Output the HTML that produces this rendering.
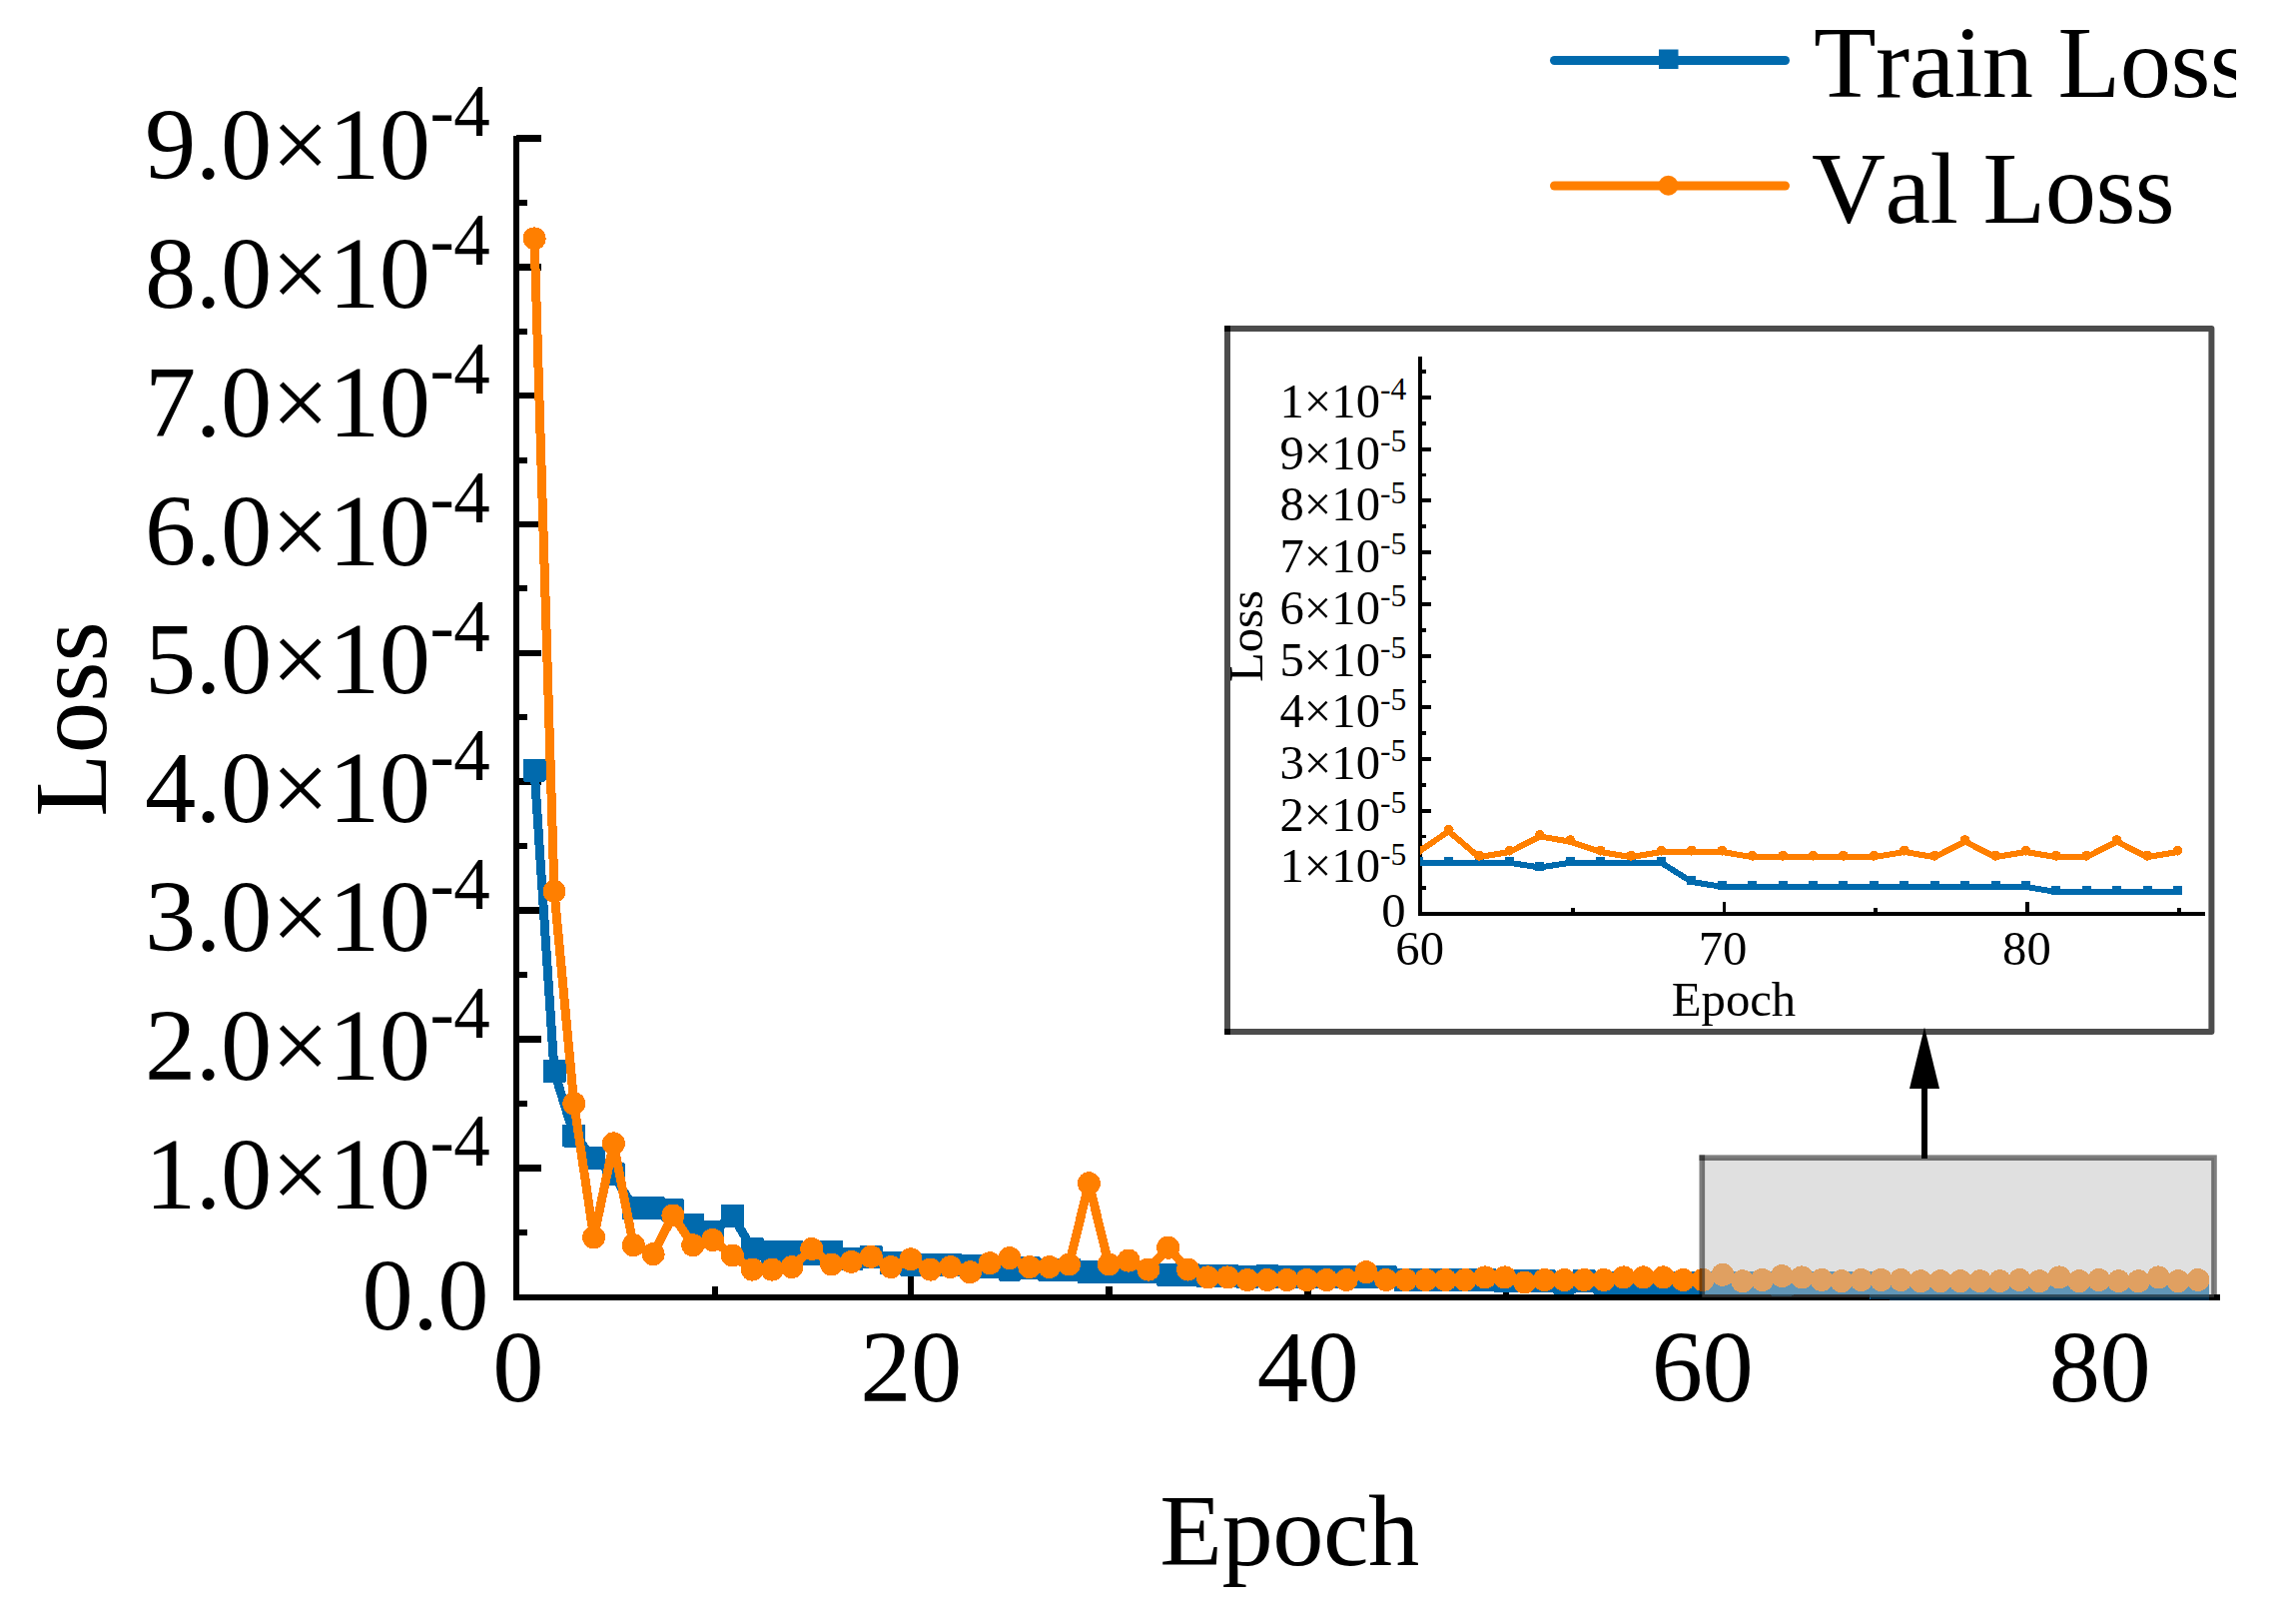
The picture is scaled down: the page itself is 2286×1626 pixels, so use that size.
<!DOCTYPE html>
<html lang="en"><head><meta charset="utf-8"><title>Train / Val Loss</title>
<style>html,body{margin:0;padding:0;background:#fff}body{width:2286px;height:1626px;overflow:hidden}svg{display:block}text{font-family:'Liberation Serif', 'Times New Roman', serif;fill:#000;font-kerning:none;font-variant-ligatures:none}</style>
</head><body>
<svg width="2286" height="1626" viewBox="0 0 2286 1626">
<defs>
<clipPath id="legclip"><rect x="0" y="0" width="2239" height="300"/></clipPath>
<clipPath id="insclip"><rect x="1422.0" y="340" width="773.0" height="577.0"/></clipPath>
<clipPath id="mainclip"><rect x="517" y="100" width="1720" height="1202"/></clipPath>
<clipPath id="zoomclip"><rect x="1690" y="1100" width="560" height="199"/></clipPath>
</defs>
<rect x="0" y="0" width="2286" height="1626" fill="#ffffff"/>
<g fill="#000" shape-rendering="crispEdges">
<rect x="514" y="135.5" width="6" height="1166.5"/>
<rect x="514" y="1296" width="1709" height="6"/>
<rect x="517" y="1230.8" width="11" height="6"/>
<rect x="517" y="1166.0" width="25" height="6.6"/>
<rect x="517" y="1101.9" width="11" height="6"/>
<rect x="517" y="1037.2" width="25" height="6.6"/>
<rect x="517" y="973.0" width="11" height="6"/>
<rect x="517" y="908.3" width="25" height="6.6"/>
<rect x="517" y="844.2" width="11" height="6"/>
<rect x="517" y="779.4" width="25" height="6.6"/>
<rect x="517" y="715.3" width="11" height="6"/>
<rect x="517" y="650.6" width="25" height="6.6"/>
<rect x="517" y="586.4" width="11" height="6"/>
<rect x="517" y="521.7" width="25" height="6.6"/>
<rect x="517" y="457.6" width="11" height="6"/>
<rect x="517" y="392.8" width="25" height="6.6"/>
<rect x="517" y="328.7" width="11" height="6"/>
<rect x="517" y="263.9" width="25" height="6.6"/>
<rect x="517" y="199.8" width="11" height="6"/>
<rect x="517" y="135.1" width="25" height="6.6"/>
<rect x="712.8" y="1288" width="6.5" height="10"/>
<rect x="908.8" y="1275.5" width="6.5" height="23"/>
<rect x="1107.2" y="1288" width="6.5" height="10"/>
<rect x="1306.2" y="1275.5" width="6.5" height="23"/>
<rect x="1504.8" y="1288" width="6.5" height="10"/>
<rect x="1701.2" y="1275.5" width="6.5" height="23"/>
<rect x="1899.2" y="1288" width="6.5" height="10"/>
<rect x="2097.2" y="1275.5" width="6.5" height="23"/>
</g>
<g font-size="102.5" letter-spacing="-0.5">
<text x="145" y="1209.8">1.0×10<tspan font-size="73" dy="-42.5">-4</tspan></text>
<text x="145" y="1081.0">2.0×10<tspan font-size="73" dy="-42.5">-4</tspan></text>
<text x="145" y="952.1">3.0×10<tspan font-size="73" dy="-42.5">-4</tspan></text>
<text x="145" y="823.2">4.0×10<tspan font-size="73" dy="-42.5">-4</tspan></text>
<text x="145" y="694.4">5.0×10<tspan font-size="73" dy="-42.5">-4</tspan></text>
<text x="145" y="565.5">6.0×10<tspan font-size="73" dy="-42.5">-4</tspan></text>
<text x="145" y="436.6">7.0×10<tspan font-size="73" dy="-42.5">-4</tspan></text>
<text x="145" y="307.7">8.0×10<tspan font-size="73" dy="-42.5">-4</tspan></text>
<text x="145" y="178.9">9.0×10<tspan font-size="73" dy="-42.5">-4</tspan></text>
<text x="489" y="1331" text-anchor="end">0.0</text>
<text x="518.5" y="1403" text-anchor="middle">0</text>
<text x="912.0" y="1403" text-anchor="middle">20</text>
<text x="1309.5" y="1403" text-anchor="middle">40</text>
<text x="1704.5" y="1403" text-anchor="middle">60</text>
<text x="2102.5" y="1403" text-anchor="middle">80</text>
<text x="1291" y="1566.5" text-anchor="middle">Epoch</text>
<text transform="translate(105.6 720) rotate(-90)" text-anchor="middle" font-size="103.5" letter-spacing="0">Loss</text>
</g>
<g clip-path="url(#mainclip)" shape-rendering="crispEdges">
<polyline fill="none" stroke="#016AAD" stroke-width="9" stroke-linejoin="round" stroke-linecap="round" points="535.1,771.1 555.0,1072.7 574.8,1137.1 594.6,1159.0 614.4,1175.8 634.3,1209.3 654.1,1209.3 673.9,1211.9 693.8,1226.0 713.6,1233.8 733.4,1217.0 753.3,1250.5 773.1,1253.1 792.9,1253.1 812.8,1255.7 832.6,1253.1 852.4,1260.8 872.2,1258.3 892.1,1264.7 911.9,1266.0 931.7,1266.0 951.6,1266.0 971.4,1267.3 991.2,1268.6 1011.0,1271.1 1030.9,1269.9 1050.7,1271.1 1070.5,1271.1 1090.4,1273.7 1110.2,1273.7 1130.0,1273.7 1149.9,1273.7 1169.7,1276.3 1189.5,1276.3 1209.3,1277.6 1229.2,1277.6 1249.0,1278.9 1268.8,1277.6 1288.7,1278.9 1308.5,1278.9 1328.3,1278.9 1348.2,1278.9 1368.0,1278.9 1387.8,1278.9 1407.6,1281.5 1427.5,1281.5 1447.3,1281.5 1467.1,1281.5 1487.0,1281.5 1506.8,1282.7 1526.6,1282.7 1546.5,1282.7 1566.3,1284.0 1586.1,1282.7 1605.9,1284.0 1625.8,1284.0 1645.6,1284.0 1665.4,1284.0 1685.3,1284.0 1705.1,1284.7 1724.9,1284.7 1744.8,1284.7 1764.6,1284.7 1784.4,1286.0 1804.2,1284.7 1824.1,1284.7 1843.9,1284.7 1863.7,1284.7 1883.6,1289.8 1903.4,1291.1 1923.2,1291.1 1943.1,1291.1 1962.9,1291.1 1982.7,1291.1 2002.5,1291.1 2022.4,1291.1 2042.2,1291.1 2062.0,1291.1 2081.9,1291.1 2101.7,1291.1 2121.5,1292.4 2141.4,1292.4 2161.2,1292.4 2181.0,1292.4 2200.8,1292.4"/>
<rect x="523.6" y="759.6" width="23" height="23" rx="1.5" fill="#016AAD"/>
<rect x="543.5" y="1061.2" width="23" height="23" rx="1.5" fill="#016AAD"/>
<rect x="563.3" y="1125.6" width="23" height="23" rx="1.5" fill="#016AAD"/>
<rect x="583.1" y="1147.5" width="23" height="23" rx="1.5" fill="#016AAD"/>
<rect x="602.9" y="1164.3" width="23" height="23" rx="1.5" fill="#016AAD"/>
<rect x="622.8" y="1197.8" width="23" height="23" rx="1.5" fill="#016AAD"/>
<rect x="642.6" y="1197.8" width="23" height="23" rx="1.5" fill="#016AAD"/>
<rect x="662.4" y="1200.4" width="23" height="23" rx="1.5" fill="#016AAD"/>
<rect x="682.3" y="1214.5" width="23" height="23" rx="1.5" fill="#016AAD"/>
<rect x="702.1" y="1222.3" width="23" height="23" rx="1.5" fill="#016AAD"/>
<rect x="721.9" y="1205.5" width="23" height="23" rx="1.5" fill="#016AAD"/>
<rect x="741.8" y="1239.0" width="23" height="23" rx="1.5" fill="#016AAD"/>
<rect x="761.6" y="1241.6" width="23" height="23" rx="1.5" fill="#016AAD"/>
<rect x="781.4" y="1241.6" width="23" height="23" rx="1.5" fill="#016AAD"/>
<rect x="801.2" y="1244.2" width="23" height="23" rx="1.5" fill="#016AAD"/>
<rect x="821.1" y="1241.6" width="23" height="23" rx="1.5" fill="#016AAD"/>
<rect x="840.9" y="1249.3" width="23" height="23" rx="1.5" fill="#016AAD"/>
<rect x="860.7" y="1246.8" width="23" height="23" rx="1.5" fill="#016AAD"/>
<rect x="880.6" y="1253.2" width="23" height="23" rx="1.5" fill="#016AAD"/>
<rect x="900.4" y="1254.5" width="23" height="23" rx="1.5" fill="#016AAD"/>
<rect x="920.2" y="1254.5" width="23" height="23" rx="1.5" fill="#016AAD"/>
<rect x="940.1" y="1254.5" width="23" height="23" rx="1.5" fill="#016AAD"/>
<rect x="959.9" y="1255.8" width="23" height="23" rx="1.5" fill="#016AAD"/>
<rect x="979.7" y="1257.1" width="23" height="23" rx="1.5" fill="#016AAD"/>
<rect x="999.5" y="1259.6" width="23" height="23" rx="1.5" fill="#016AAD"/>
<rect x="1019.4" y="1258.4" width="23" height="23" rx="1.5" fill="#016AAD"/>
<rect x="1039.2" y="1259.6" width="23" height="23" rx="1.5" fill="#016AAD"/>
<rect x="1059.0" y="1259.6" width="23" height="23" rx="1.5" fill="#016AAD"/>
<rect x="1078.9" y="1262.2" width="23" height="23" rx="1.5" fill="#016AAD"/>
<rect x="1098.7" y="1262.2" width="23" height="23" rx="1.5" fill="#016AAD"/>
<rect x="1118.5" y="1262.2" width="23" height="23" rx="1.5" fill="#016AAD"/>
<rect x="1138.4" y="1262.2" width="23" height="23" rx="1.5" fill="#016AAD"/>
<rect x="1158.2" y="1264.8" width="23" height="23" rx="1.5" fill="#016AAD"/>
<rect x="1178.0" y="1264.8" width="23" height="23" rx="1.5" fill="#016AAD"/>
<rect x="1197.8" y="1266.1" width="23" height="23" rx="1.5" fill="#016AAD"/>
<rect x="1217.7" y="1266.1" width="23" height="23" rx="1.5" fill="#016AAD"/>
<rect x="1237.5" y="1267.4" width="23" height="23" rx="1.5" fill="#016AAD"/>
<rect x="1257.3" y="1266.1" width="23" height="23" rx="1.5" fill="#016AAD"/>
<rect x="1277.2" y="1267.4" width="23" height="23" rx="1.5" fill="#016AAD"/>
<rect x="1297.0" y="1267.4" width="23" height="23" rx="1.5" fill="#016AAD"/>
<rect x="1316.8" y="1267.4" width="23" height="23" rx="1.5" fill="#016AAD"/>
<rect x="1336.7" y="1267.4" width="23" height="23" rx="1.5" fill="#016AAD"/>
<rect x="1356.5" y="1267.4" width="23" height="23" rx="1.5" fill="#016AAD"/>
<rect x="1376.3" y="1267.4" width="23" height="23" rx="1.5" fill="#016AAD"/>
<rect x="1396.1" y="1270.0" width="23" height="23" rx="1.5" fill="#016AAD"/>
<rect x="1416.0" y="1270.0" width="23" height="23" rx="1.5" fill="#016AAD"/>
<rect x="1435.8" y="1270.0" width="23" height="23" rx="1.5" fill="#016AAD"/>
<rect x="1455.6" y="1270.0" width="23" height="23" rx="1.5" fill="#016AAD"/>
<rect x="1475.5" y="1270.0" width="23" height="23" rx="1.5" fill="#016AAD"/>
<rect x="1495.3" y="1271.2" width="23" height="23" rx="1.5" fill="#016AAD"/>
<rect x="1515.1" y="1271.2" width="23" height="23" rx="1.5" fill="#016AAD"/>
<rect x="1535.0" y="1271.2" width="23" height="23" rx="1.5" fill="#016AAD"/>
<rect x="1554.8" y="1272.5" width="23" height="23" rx="1.5" fill="#016AAD"/>
<rect x="1574.6" y="1271.2" width="23" height="23" rx="1.5" fill="#016AAD"/>
<rect x="1594.4" y="1272.5" width="23" height="23" rx="1.5" fill="#016AAD"/>
<rect x="1614.3" y="1272.5" width="23" height="23" rx="1.5" fill="#016AAD"/>
<rect x="1634.1" y="1272.5" width="23" height="23" rx="1.5" fill="#016AAD"/>
<rect x="1653.9" y="1272.5" width="23" height="23" rx="1.5" fill="#016AAD"/>
<rect x="1673.8" y="1272.5" width="23" height="23" rx="1.5" fill="#016AAD"/>
<rect x="1693.6" y="1273.2" width="23" height="23" rx="1.5" fill="#016AAD"/>
<rect x="1713.4" y="1273.2" width="23" height="23" rx="1.5" fill="#016AAD"/>
<rect x="1733.3" y="1273.2" width="23" height="23" rx="1.5" fill="#016AAD"/>
<rect x="1753.1" y="1273.2" width="23" height="23" rx="1.5" fill="#016AAD"/>
<rect x="1772.9" y="1274.5" width="23" height="23" rx="1.5" fill="#016AAD"/>
<rect x="1792.7" y="1273.2" width="23" height="23" rx="1.5" fill="#016AAD"/>
<rect x="1812.6" y="1273.2" width="23" height="23" rx="1.5" fill="#016AAD"/>
<rect x="1832.4" y="1273.2" width="23" height="23" rx="1.5" fill="#016AAD"/>
<rect x="1852.2" y="1273.2" width="23" height="23" rx="1.5" fill="#016AAD"/>
<rect x="1872.1" y="1278.3" width="23" height="23" rx="1.5" fill="#016AAD"/>
<rect x="1891.9" y="1279.6" width="23" height="23" rx="1.5" fill="#016AAD"/>
<rect x="1911.7" y="1279.6" width="23" height="23" rx="1.5" fill="#016AAD"/>
<rect x="1931.6" y="1279.6" width="23" height="23" rx="1.5" fill="#016AAD"/>
<rect x="1951.4" y="1279.6" width="23" height="23" rx="1.5" fill="#016AAD"/>
<rect x="1971.2" y="1279.6" width="23" height="23" rx="1.5" fill="#016AAD"/>
<rect x="1991.0" y="1279.6" width="23" height="23" rx="1.5" fill="#016AAD"/>
<rect x="2010.9" y="1279.6" width="23" height="23" rx="1.5" fill="#016AAD"/>
<rect x="2030.7" y="1279.6" width="23" height="23" rx="1.5" fill="#016AAD"/>
<rect x="2050.5" y="1279.6" width="23" height="23" rx="1.5" fill="#016AAD"/>
<rect x="2070.4" y="1279.6" width="23" height="23" rx="1.5" fill="#016AAD"/>
<rect x="2090.2" y="1279.6" width="23" height="23" rx="1.5" fill="#016AAD"/>
<rect x="2110.0" y="1280.9" width="23" height="23" rx="1.5" fill="#016AAD"/>
<rect x="2129.9" y="1280.9" width="23" height="23" rx="1.5" fill="#016AAD"/>
<rect x="2149.7" y="1280.9" width="23" height="23" rx="1.5" fill="#016AAD"/>
<rect x="2169.5" y="1280.9" width="23" height="23" rx="1.5" fill="#016AAD"/>
<rect x="2189.3" y="1280.9" width="23" height="23" rx="1.5" fill="#016AAD"/>
<polyline fill="none" stroke="#FF7F00" stroke-width="9" stroke-linejoin="round" stroke-linecap="round" points="535.1,238.9 555.0,892.3 574.8,1104.9 594.6,1238.9 614.4,1144.9 634.3,1246.7 654.1,1255.7 673.9,1217.0 693.8,1246.7 713.6,1241.5 733.4,1257.0 753.3,1271.1 773.1,1271.1 792.9,1268.6 812.8,1250.5 832.6,1266.0 852.4,1263.4 872.2,1258.3 892.1,1268.6 911.9,1260.8 931.7,1271.1 951.6,1268.6 971.4,1273.7 991.2,1264.7 1011.0,1259.6 1030.9,1268.6 1050.7,1268.6 1070.5,1266.0 1090.4,1184.8 1110.2,1266.0 1130.0,1262.1 1149.9,1271.1 1169.7,1249.2 1189.5,1271.1 1209.3,1278.9 1229.2,1278.9 1249.0,1281.5 1268.8,1281.5 1288.7,1281.5 1308.5,1281.5 1328.3,1281.5 1348.2,1281.5 1368.0,1273.7 1387.8,1281.5 1407.6,1281.5 1427.5,1281.5 1447.3,1281.5 1467.1,1281.5 1487.0,1278.9 1506.8,1278.9 1526.6,1284.0 1546.5,1281.5 1566.3,1281.5 1586.1,1281.5 1605.9,1281.5 1625.8,1278.9 1645.6,1278.9 1665.4,1278.9 1685.3,1281.5 1705.1,1281.5 1724.9,1276.3 1744.8,1282.7 1764.6,1281.5 1784.4,1277.6 1804.2,1278.9 1824.1,1281.5 1843.9,1282.7 1863.7,1281.5 1883.6,1281.5 1903.4,1281.5 1923.2,1282.7 1943.1,1282.7 1962.9,1282.7 1982.7,1282.7 2002.5,1282.7 2022.4,1281.5 2042.2,1282.7 2062.0,1278.9 2081.9,1282.7 2101.7,1281.5 2121.5,1282.7 2141.4,1282.7 2161.2,1278.9 2181.0,1282.7 2200.8,1281.5"/>
<circle cx="535.1" cy="238.9" r="11.5" fill="#FF7F00"/>
<circle cx="555.0" cy="892.3" r="11.5" fill="#FF7F00"/>
<circle cx="574.8" cy="1104.9" r="11.5" fill="#FF7F00"/>
<circle cx="594.6" cy="1238.9" r="11.5" fill="#FF7F00"/>
<circle cx="614.4" cy="1144.9" r="11.5" fill="#FF7F00"/>
<circle cx="634.3" cy="1246.7" r="11.5" fill="#FF7F00"/>
<circle cx="654.1" cy="1255.7" r="11.5" fill="#FF7F00"/>
<circle cx="673.9" cy="1217.0" r="11.5" fill="#FF7F00"/>
<circle cx="693.8" cy="1246.7" r="11.5" fill="#FF7F00"/>
<circle cx="713.6" cy="1241.5" r="11.5" fill="#FF7F00"/>
<circle cx="733.4" cy="1257.0" r="11.5" fill="#FF7F00"/>
<circle cx="753.3" cy="1271.1" r="11.5" fill="#FF7F00"/>
<circle cx="773.1" cy="1271.1" r="11.5" fill="#FF7F00"/>
<circle cx="792.9" cy="1268.6" r="11.5" fill="#FF7F00"/>
<circle cx="812.8" cy="1250.5" r="11.5" fill="#FF7F00"/>
<circle cx="832.6" cy="1266.0" r="11.5" fill="#FF7F00"/>
<circle cx="852.4" cy="1263.4" r="11.5" fill="#FF7F00"/>
<circle cx="872.2" cy="1258.3" r="11.5" fill="#FF7F00"/>
<circle cx="892.1" cy="1268.6" r="11.5" fill="#FF7F00"/>
<circle cx="911.9" cy="1260.8" r="11.5" fill="#FF7F00"/>
<circle cx="931.7" cy="1271.1" r="11.5" fill="#FF7F00"/>
<circle cx="951.6" cy="1268.6" r="11.5" fill="#FF7F00"/>
<circle cx="971.4" cy="1273.7" r="11.5" fill="#FF7F00"/>
<circle cx="991.2" cy="1264.7" r="11.5" fill="#FF7F00"/>
<circle cx="1011.0" cy="1259.6" r="11.5" fill="#FF7F00"/>
<circle cx="1030.9" cy="1268.6" r="11.5" fill="#FF7F00"/>
<circle cx="1050.7" cy="1268.6" r="11.5" fill="#FF7F00"/>
<circle cx="1070.5" cy="1266.0" r="11.5" fill="#FF7F00"/>
<circle cx="1090.4" cy="1184.8" r="11.5" fill="#FF7F00"/>
<circle cx="1110.2" cy="1266.0" r="11.5" fill="#FF7F00"/>
<circle cx="1130.0" cy="1262.1" r="11.5" fill="#FF7F00"/>
<circle cx="1149.9" cy="1271.1" r="11.5" fill="#FF7F00"/>
<circle cx="1169.7" cy="1249.2" r="11.5" fill="#FF7F00"/>
<circle cx="1189.5" cy="1271.1" r="11.5" fill="#FF7F00"/>
<circle cx="1209.3" cy="1278.9" r="11.5" fill="#FF7F00"/>
<circle cx="1229.2" cy="1278.9" r="11.5" fill="#FF7F00"/>
<circle cx="1249.0" cy="1281.5" r="11.5" fill="#FF7F00"/>
<circle cx="1268.8" cy="1281.5" r="11.5" fill="#FF7F00"/>
<circle cx="1288.7" cy="1281.5" r="11.5" fill="#FF7F00"/>
<circle cx="1308.5" cy="1281.5" r="11.5" fill="#FF7F00"/>
<circle cx="1328.3" cy="1281.5" r="11.5" fill="#FF7F00"/>
<circle cx="1348.2" cy="1281.5" r="11.5" fill="#FF7F00"/>
<circle cx="1368.0" cy="1273.7" r="11.5" fill="#FF7F00"/>
<circle cx="1387.8" cy="1281.5" r="11.5" fill="#FF7F00"/>
<circle cx="1407.6" cy="1281.5" r="11.5" fill="#FF7F00"/>
<circle cx="1427.5" cy="1281.5" r="11.5" fill="#FF7F00"/>
<circle cx="1447.3" cy="1281.5" r="11.5" fill="#FF7F00"/>
<circle cx="1467.1" cy="1281.5" r="11.5" fill="#FF7F00"/>
<circle cx="1487.0" cy="1278.9" r="11.5" fill="#FF7F00"/>
<circle cx="1506.8" cy="1278.9" r="11.5" fill="#FF7F00"/>
<circle cx="1526.6" cy="1284.0" r="11.5" fill="#FF7F00"/>
<circle cx="1546.5" cy="1281.5" r="11.5" fill="#FF7F00"/>
<circle cx="1566.3" cy="1281.5" r="11.5" fill="#FF7F00"/>
<circle cx="1586.1" cy="1281.5" r="11.5" fill="#FF7F00"/>
<circle cx="1605.9" cy="1281.5" r="11.5" fill="#FF7F00"/>
<circle cx="1625.8" cy="1278.9" r="11.5" fill="#FF7F00"/>
<circle cx="1645.6" cy="1278.9" r="11.5" fill="#FF7F00"/>
<circle cx="1665.4" cy="1278.9" r="11.5" fill="#FF7F00"/>
<circle cx="1685.3" cy="1281.5" r="11.5" fill="#FF7F00"/>
<circle cx="1705.1" cy="1281.5" r="11.5" fill="#FF7F00"/>
<circle cx="1724.9" cy="1276.3" r="11.5" fill="#FF7F00"/>
<circle cx="1744.8" cy="1282.7" r="11.5" fill="#FF7F00"/>
<circle cx="1764.6" cy="1281.5" r="11.5" fill="#FF7F00"/>
<circle cx="1784.4" cy="1277.6" r="11.5" fill="#FF7F00"/>
<circle cx="1804.2" cy="1278.9" r="11.5" fill="#FF7F00"/>
<circle cx="1824.1" cy="1281.5" r="11.5" fill="#FF7F00"/>
<circle cx="1843.9" cy="1282.7" r="11.5" fill="#FF7F00"/>
<circle cx="1863.7" cy="1281.5" r="11.5" fill="#FF7F00"/>
<circle cx="1883.6" cy="1281.5" r="11.5" fill="#FF7F00"/>
<circle cx="1903.4" cy="1281.5" r="11.5" fill="#FF7F00"/>
<circle cx="1923.2" cy="1282.7" r="11.5" fill="#FF7F00"/>
<circle cx="1943.1" cy="1282.7" r="11.5" fill="#FF7F00"/>
<circle cx="1962.9" cy="1282.7" r="11.5" fill="#FF7F00"/>
<circle cx="1982.7" cy="1282.7" r="11.5" fill="#FF7F00"/>
<circle cx="2002.5" cy="1282.7" r="11.5" fill="#FF7F00"/>
<circle cx="2022.4" cy="1281.5" r="11.5" fill="#FF7F00"/>
<circle cx="2042.2" cy="1282.7" r="11.5" fill="#FF7F00"/>
<circle cx="2062.0" cy="1278.9" r="11.5" fill="#FF7F00"/>
<circle cx="2081.9" cy="1282.7" r="11.5" fill="#FF7F00"/>
<circle cx="2101.7" cy="1281.5" r="11.5" fill="#FF7F00"/>
<circle cx="2121.5" cy="1282.7" r="11.5" fill="#FF7F00"/>
<circle cx="2141.4" cy="1282.7" r="11.5" fill="#FF7F00"/>
<circle cx="2161.2" cy="1278.9" r="11.5" fill="#FF7F00"/>
<circle cx="2181.0" cy="1282.7" r="11.5" fill="#FF7F00"/>
<circle cx="2200.8" cy="1281.5" r="11.5" fill="#FF7F00"/>
</g>
<rect x="1704.3" y="1159.2" width="512.7" height="139.6" fill="rgba(193,193,193,0.5)" stroke="rgba(0,0,0,0.5)" stroke-width="5.6" clip-path="url(#zoomclip)"/>
<rect x="1873" y="1299" width="347" height="3" fill="rgba(0,0,0,0.6)"/>
<rect x="1701.5" y="1156.4" width="5.6" height="5.6" fill="rgba(0,0,0,0.5)"/>
<rect x="1229" y="329" width="985.4" height="704" fill="#ffffff" stroke="rgba(0,0,0,0.7)" stroke-width="6" stroke-linejoin="round"/>
<rect x="1226" y="326" width="6" height="6" fill="rgba(0,0,0,0.9)"/>
<rect x="1226" y="1030" width="6" height="6" fill="rgba(0,0,0,0.9)"/>
<rect x="1924" y="1085" width="6" height="75" fill="#000"/>
<polygon points="1927,1028.5 1942,1090 1912,1090" fill="#000"/>
<g font-size="48.7">
<text x="1281.5" y="883.3">1×10<tspan font-size="31.5" dy="-17.7">-5</tspan></text>
<text x="1281.5" y="831.6">2×10<tspan font-size="31.5" dy="-17.7">-5</tspan></text>
<text x="1281.5" y="779.9">3×10<tspan font-size="31.5" dy="-17.7">-5</tspan></text>
<text x="1281.5" y="728.2">4×10<tspan font-size="31.5" dy="-17.7">-5</tspan></text>
<text x="1281.5" y="676.5">5×10<tspan font-size="31.5" dy="-17.7">-5</tspan></text>
<text x="1281.5" y="624.8">6×10<tspan font-size="31.5" dy="-17.7">-5</tspan></text>
<text x="1281.5" y="573.1">7×10<tspan font-size="31.5" dy="-17.7">-5</tspan></text>
<text x="1281.5" y="521.4">8×10<tspan font-size="31.5" dy="-17.7">-5</tspan></text>
<text x="1281.5" y="469.7">9×10<tspan font-size="31.5" dy="-17.7">-5</tspan></text>
<text x="1281.5" y="418.0">1×10<tspan font-size="31.5" dy="-17.7">-4</tspan></text>
<text x="1407.5" y="928" text-anchor="end">0</text>
<text x="1421.7" y="966" text-anchor="middle">60</text>
<text x="1725.0" y="966" text-anchor="middle">70</text>
<text x="2029.4" y="966" text-anchor="middle">80</text>
<text x="1736" y="1017" text-anchor="middle">Epoch</text>
<text transform="translate(1264 637) rotate(-90)" text-anchor="middle">Loss</text>
</g>
<g fill="#000" shape-rendering="crispEdges">
<rect x="1420" y="356.5" width="4" height="560.5"/>
<rect x="1420" y="913" width="788" height="4"/>
<rect x="1422" y="913.0" width="11" height="4"/>
<rect x="1422" y="887.4" width="6.4" height="3.6"/>
<rect x="1422" y="861.3" width="11" height="4"/>
<rect x="1422" y="835.6" width="6.4" height="3.6"/>
<rect x="1422" y="809.6" width="11" height="4"/>
<rect x="1422" y="784.0" width="6.4" height="3.6"/>
<rect x="1422" y="757.9" width="11" height="4"/>
<rect x="1422" y="732.2" width="6.4" height="3.6"/>
<rect x="1422" y="706.2" width="11" height="4"/>
<rect x="1422" y="680.6" width="6.4" height="3.6"/>
<rect x="1422" y="654.5" width="11" height="4"/>
<rect x="1422" y="628.9" width="6.4" height="3.6"/>
<rect x="1422" y="602.8" width="11" height="4"/>
<rect x="1422" y="577.1" width="6.4" height="3.6"/>
<rect x="1422" y="551.1" width="11" height="4"/>
<rect x="1422" y="525.4" width="6.4" height="3.6"/>
<rect x="1422" y="499.4" width="11" height="4"/>
<rect x="1422" y="473.7" width="6.4" height="3.6"/>
<rect x="1422" y="447.7" width="11" height="4"/>
<rect x="1422" y="422.0" width="6.4" height="3.6"/>
<rect x="1422" y="396.0" width="11" height="4"/>
<rect x="1422" y="370.3" width="6.4" height="3.6"/>
<rect x="1572.8" y="909" width="3.8" height="5"/>
<rect x="1724.6" y="903" width="3.8" height="11"/>
<rect x="1876.3" y="909" width="3.8" height="5"/>
<rect x="2028.1" y="903" width="3.8" height="11"/>
<rect x="2179.8" y="909" width="3.8" height="5"/>
</g>
<g clip-path="url(#insclip)" shape-rendering="crispEdges">
<polyline fill="none" stroke="#016AAD" stroke-width="6" stroke-linejoin="round" stroke-linecap="round" points="1389.8,853.0 1420.2,863.8 1450.6,863.8 1481.0,863.8 1511.4,863.8 1541.8,868.5 1572.2,863.8 1602.7,863.8 1633.1,863.8 1663.5,863.8 1693.9,882.9 1724.3,887.9 1754.7,887.9 1785.1,887.9 1815.5,887.9 1845.9,887.9 1876.3,887.9 1906.8,887.9 1937.2,887.9 1967.6,887.9 1998.0,887.9 2028.4,887.9 2058.8,893.0 2089.2,893.0 2119.6,893.0 2150.0,893.0 2180.4,893.0"/>
<rect x="1385.3" y="847.3" width="9" height="9" fill="#016AAD"/>
<rect x="1415.7" y="858.1" width="9" height="9" fill="#016AAD"/>
<rect x="1446.1" y="858.1" width="9" height="9" fill="#016AAD"/>
<rect x="1476.5" y="858.1" width="9" height="9" fill="#016AAD"/>
<rect x="1506.9" y="858.1" width="9" height="9" fill="#016AAD"/>
<rect x="1537.3" y="862.8" width="9" height="9" fill="#016AAD"/>
<rect x="1567.8" y="858.1" width="9" height="9" fill="#016AAD"/>
<rect x="1598.2" y="858.1" width="9" height="9" fill="#016AAD"/>
<rect x="1628.6" y="858.1" width="9" height="9" fill="#016AAD"/>
<rect x="1659.0" y="858.1" width="9" height="9" fill="#016AAD"/>
<rect x="1689.4" y="877.2" width="9" height="9" fill="#016AAD"/>
<rect x="1719.8" y="882.2" width="9" height="9" fill="#016AAD"/>
<rect x="1750.2" y="882.2" width="9" height="9" fill="#016AAD"/>
<rect x="1780.6" y="882.2" width="9" height="9" fill="#016AAD"/>
<rect x="1811.0" y="882.2" width="9" height="9" fill="#016AAD"/>
<rect x="1841.4" y="882.2" width="9" height="9" fill="#016AAD"/>
<rect x="1871.8" y="882.2" width="9" height="9" fill="#016AAD"/>
<rect x="1902.3" y="882.2" width="9" height="9" fill="#016AAD"/>
<rect x="1932.7" y="882.2" width="9" height="9" fill="#016AAD"/>
<rect x="1963.1" y="882.2" width="9" height="9" fill="#016AAD"/>
<rect x="1993.5" y="882.2" width="9" height="9" fill="#016AAD"/>
<rect x="2023.9" y="882.2" width="9" height="9" fill="#016AAD"/>
<rect x="2054.3" y="887.3" width="9" height="9" fill="#016AAD"/>
<rect x="2084.7" y="887.3" width="9" height="9" fill="#016AAD"/>
<rect x="2115.1" y="887.3" width="9" height="9" fill="#016AAD"/>
<rect x="2145.5" y="887.3" width="9" height="9" fill="#016AAD"/>
<rect x="2175.9" y="887.3" width="9" height="9" fill="#016AAD"/>
<polyline fill="none" stroke="#FF7F00" stroke-width="6" stroke-linejoin="round" stroke-linecap="round" points="1389.8,842.6 1420.2,853.0 1450.6,832.3 1481.0,858.1 1511.4,853.0 1541.8,837.5 1572.2,842.6 1602.7,853.0 1633.1,858.1 1663.5,853.0 1693.9,853.0 1724.3,853.0 1754.7,858.1 1785.1,858.1 1815.5,858.1 1845.9,858.1 1876.3,858.1 1906.8,853.0 1937.2,858.1 1967.6,842.6 1998.0,858.1 2028.4,853.0 2058.8,858.1 2089.2,858.1 2119.6,842.6 2150.0,858.1 2180.4,853.0"/>
<circle cx="1389.8" cy="841.2" r="5" fill="#FF7F00"/>
<circle cx="1420.2" cy="851.6" r="5" fill="#FF7F00"/>
<circle cx="1450.6" cy="830.9" r="5" fill="#FF7F00"/>
<circle cx="1481.0" cy="856.7" r="5" fill="#FF7F00"/>
<circle cx="1511.4" cy="851.6" r="5" fill="#FF7F00"/>
<circle cx="1541.8" cy="836.1" r="5" fill="#FF7F00"/>
<circle cx="1572.2" cy="841.2" r="5" fill="#FF7F00"/>
<circle cx="1602.7" cy="851.6" r="5" fill="#FF7F00"/>
<circle cx="1633.1" cy="856.7" r="5" fill="#FF7F00"/>
<circle cx="1663.5" cy="851.6" r="5" fill="#FF7F00"/>
<circle cx="1693.9" cy="851.6" r="5" fill="#FF7F00"/>
<circle cx="1724.3" cy="851.6" r="5" fill="#FF7F00"/>
<circle cx="1754.7" cy="856.7" r="5" fill="#FF7F00"/>
<circle cx="1785.1" cy="856.7" r="5" fill="#FF7F00"/>
<circle cx="1815.5" cy="856.7" r="5" fill="#FF7F00"/>
<circle cx="1845.9" cy="856.7" r="5" fill="#FF7F00"/>
<circle cx="1876.3" cy="856.7" r="5" fill="#FF7F00"/>
<circle cx="1906.8" cy="851.6" r="5" fill="#FF7F00"/>
<circle cx="1937.2" cy="856.7" r="5" fill="#FF7F00"/>
<circle cx="1967.6" cy="841.2" r="5" fill="#FF7F00"/>
<circle cx="1998.0" cy="856.7" r="5" fill="#FF7F00"/>
<circle cx="2028.4" cy="851.6" r="5" fill="#FF7F00"/>
<circle cx="2058.8" cy="856.7" r="5" fill="#FF7F00"/>
<circle cx="2089.2" cy="856.7" r="5" fill="#FF7F00"/>
<circle cx="2119.6" cy="841.2" r="5" fill="#FF7F00"/>
<circle cx="2150.0" cy="856.7" r="5" fill="#FF7F00"/>
<circle cx="2180.4" cy="851.6" r="5" fill="#FF7F00"/>
</g>
<g>
<line x1="1556.5" y1="60.5" x2="1787.5" y2="60.5" stroke="#016AAD" stroke-width="9" stroke-linecap="round"/>
<rect x="1661" y="49.5" width="19.5" height="19.5" fill="#016AAD"/>
<line x1="1556.5" y1="186" x2="1787.5" y2="186" stroke="#FF7F00" stroke-width="9" stroke-linecap="round"/>
<circle cx="1670.5" cy="185.7" r="10" fill="#FF7F00"/>
<g font-size="102.5" letter-spacing="-0.5" clip-path="url(#legclip)">
<text x="1816" y="96.5">Train Loss</text>
<text x="1814" y="222.5">Val Loss</text>
</g></g>
</svg>
</body></html>
